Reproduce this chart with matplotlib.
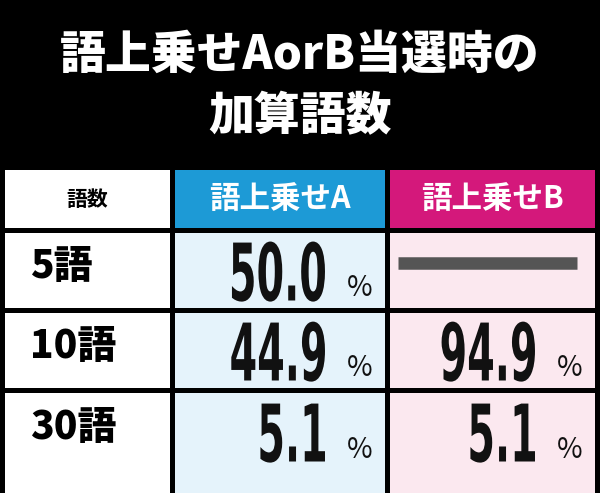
import matplotlib
matplotlib.use("Agg")
import matplotlib.pyplot as plt
from matplotlib.patches import Rectangle, PathPatch
from matplotlib.textpath import TextPath
from matplotlib.font_manager import FontProperties
from matplotlib.transforms import Affine2D

# ---------------- data ----------------
title_lines = ["語上乗せAorB当選時の", "加算語数"]
headers = ["語数", "語上乗せA", "語上乗せB"]
row_labels = ["5語", "10語", "30語"]
values_a = [50.0, 44.9, 5.1]
values_b = [None, 94.9, 5.1]

JP = ["Noto Sans CJK JP", "DejaVu Sans"]
NUMFP = FontProperties(family="DejaVu Sans", weight="bold")

# ---------------- layout (pixels) ----------------
col_x = [(5, 170), (175, 385), (390, 595)]
head_y = (170, 228)
row_y = [(233, 308), (313, 388), (393, 470)]
head_colors = ["white", "#1d9ad6", "#d4187b"]
head_text = ["black", "white", "white"]
cell_colors = ["white", "#e5f3fb", "#fbe8ef"]

fig = plt.figure(figsize=(6, 4.93), dpi=100)
fig.patch.set_facecolor("black")
ax = fig.add_axes([0, 0, 1, 1])
ax.set_xlim(0, 600)
ax.set_ylim(493, 0)
ax.axis("off")

ax.text(300, 55, title_lines[0], color="white", fontsize=33, fontweight="heavy",
        family=JP, ha="center", va="center")
ax.text(300, 117, title_lines[1], color="white", fontsize=33, fontweight="heavy",
        family=JP, ha="center", va="center")

def cell(c, y0, y1, color):
    x0, x1 = col_x[c]
    ax.add_patch(Rectangle((x0, y0), x1 - x0, y1 - y0, color=color, lw=0))

def narrow_number(s, x_right, y_base, height=58, squeeze=0.5):
    tp = TextPath((0, 0), s, size=100, prop=NUMFP)
    bb = tp.get_extents()
    k = height / 73.0
    w = bb.x1 * k * squeeze
    tr = Affine2D().scale(k * squeeze, -k).translate(x_right - w, y_base)
    ax.add_patch(PathPatch(tr.transform_path(tp), color="#111111", lw=0))

# header
for c, h in enumerate(headers):
    cell(c, *head_y, head_colors[c])
    x0, x1 = col_x[c]
    ax.text((x0 + x1) / 2, sum(head_y) / 2, h, color=head_text[c],
            fontsize=15 if c == 0 else 22, fontweight="bold", family=JP,
            ha="center", va="center")

# body
for r, lab in enumerate(row_labels):
    y0, y1 = row_y[r]
    ym = (y0 + y1) / 2
    for c in range(3):
        cell(c, y0, y1 + (23 if r == 2 else 0), cell_colors[c])
    ax.text(30, ym - 4, lab, fontsize=28, fontweight="heavy", family=JP,
            ha="left", va="center")
    for c, v in ((1, values_a[r]), (2, values_b[r])):
        x0, x1 = col_x[c]
        if v is None:
            ax.plot([x0 + 8, x1 - 18], [ym - 8, ym - 8], color="#555555", lw=9,
                    solid_capstyle="butt")
            continue
        narrow_number(f"{v:.1f}", x1 - 60, ym + 30)
        ax.text(x1 - 12, ym + 18, "%", fontsize=20, family=JP, ha="right",
                va="center", color="#111111")

fig.savefig("out.png", dpi=100, facecolor="black")
